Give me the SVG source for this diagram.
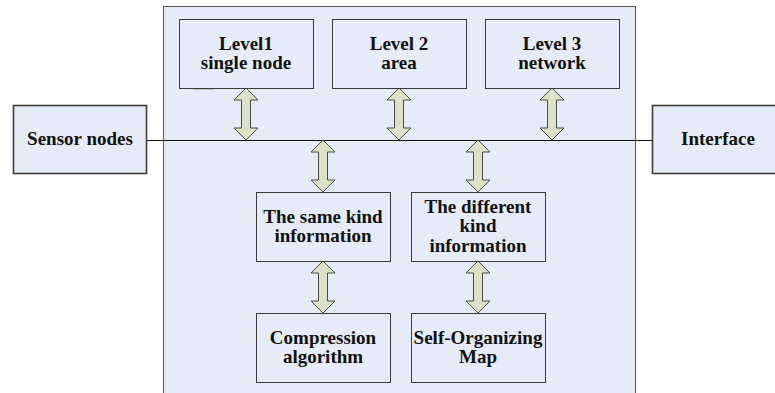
<svg xmlns="http://www.w3.org/2000/svg" xmlns:xlink="http://www.w3.org/1999/xlink" width="775" height="393" viewBox="0 0 775 393">
<defs>
<style>
.panel{fill:#E6ECF7;stroke:#555;stroke-width:1}
.box{fill:#E6ECF7;stroke:#3a3a3a;stroke-width:1}
.sbox{fill:#E6ECF7;stroke:#3a3a3a;stroke-width:1.6}
.t{font-family:"Liberation Serif","Times New Roman",serif;font-weight:bold;font-size:19px;fill:#111;text-anchor:middle}
.arr{fill:#DDE1C6;stroke:#4a4a4a;stroke-width:1}
.ln{stroke:#111;stroke-width:1;fill:none}
</style>
<path id="dbl" class="arr" d="M0,0 L12,12 L4.5,12 L4.5,40 L12,40 L0,52 L-12,40 L-4.5,40 L-4.5,12 L-12,12 Z"/>
</defs>
<rect width="775" height="393" fill="#fff"/>
<rect class="panel" x="163.5" y="6.5" width="472" height="392"/>

<g id="connectors">
<line class="ln" x1="147" y1="140.5" x2="652" y2="140.5"/>
<use xlink:href="#dbl" x="246" y="88"/>
<use xlink:href="#dbl" x="399" y="88"/>
<use xlink:href="#dbl" x="552" y="88"/>
<use xlink:href="#dbl" x="323" y="140"/>
<use xlink:href="#dbl" x="478" y="140"/>
<use xlink:href="#dbl" x="323" y="261"/>
<use xlink:href="#dbl" x="478" y="261"/>
<line x1="193" y1="88.5" x2="213" y2="88.5" stroke="#333" stroke-width="1.5"/>
</g>

<g id="sensor">
<rect class="sbox" x="13.5" y="105.5" width="133" height="68"/>
<text class="t" x="80" y="145">Sensor nodes</text>
</g>
<g id="interface">
<rect class="sbox" x="652.5" y="105.5" width="140" height="68"/>
<text class="t" x="718" y="145">Interface</text>
</g>
<g id="level1">
<rect class="box" x="179.5" y="19.5" width="134" height="69"/>
<text class="t" x="246" y="50">Level1</text>
<text class="t" x="246" y="69">single node</text>
</g>
<g id="level2">
<rect class="box" x="332.5" y="19.5" width="134" height="69"/>
<text class="t" x="399" y="50">Level 2</text>
<text class="t" x="399" y="69">area</text>
</g>
<g id="level3">
<rect class="box" x="485.5" y="19.5" width="134" height="69"/>
<text class="t" x="552" y="50">Level 3</text>
<text class="t" x="552" y="69">network</text>
</g>
<g id="samekind">
<rect class="box" x="256.5" y="192.5" width="134" height="69"/>
<text class="t" x="323" y="223">The same kind</text>
<text class="t" x="323" y="242">information</text>
</g>
<g id="differentkind">
<rect class="box" x="411.5" y="192.5" width="134" height="69"/>
<text class="t" x="478" y="213">The different</text>
<text class="t" x="478" y="232">kind</text>
<text class="t" x="478" y="252">information</text>
</g>
<g id="compression">
<rect class="box" x="256.5" y="313.5" width="134" height="69"/>
<text class="t" x="323" y="344">Compression</text>
<text class="t" x="323" y="363">algorithm</text>
</g>
<g id="som">
<rect class="box" x="411.5" y="313.5" width="134" height="69"/>
<text class="t" x="478" y="344">Self-Organizing</text>
<text class="t" x="478" y="363">Map</text>
</g>
</svg>
